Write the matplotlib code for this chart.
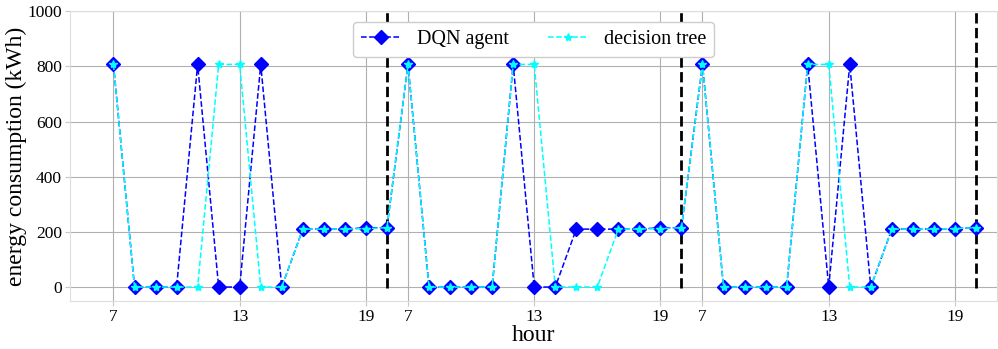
import matplotlib
matplotlib.use("Agg")
import matplotlib.pyplot as plt
import numpy as np

# hours of each day (7..20), three consecutive days
hours = list(range(7, 21))
n_days = 3

# energy consumption (kWh) per hour
dqn = [807, 0, 0, 0, 807, 0, 0, 807, 0, 210, 210, 210, 215, 215,
       807, 0, 0, 0, 0, 807, 0, 0, 210, 210, 210, 210, 215, 215,
       807, 0, 0, 0, 0, 807, 0, 807, 0, 210, 210, 210, 212, 215]
tree = [807, 0, 0, 0, 0, 807, 807, 0, 0, 210, 210, 210, 212, 215,
        807, 0, 0, 0, 0, 807, 807, 0, 0, 0, 210, 210, 212, 215,
        807, 0, 0, 0, 0, 807, 807, 0, 0, 210, 210, 210, 212, 215]

tick_hours = [7, 13, 19]

plt.rcParams['font.family'] = ['Liberation Serif', 'DejaVu Serif']

xs = np.arange(len(dqn))
fig, ax = plt.subplots(figsize=(9.98, 3.49), dpi=100)

ax.plot(xs, dqn, 'D--', color='blue', markersize=7, linewidth=1.1, label='DQN agent')
ax.plot(xs, tree, '*--', color='cyan', markersize=6, linewidth=1.1, label='decision tree')

# end of each day
for d in range(n_days):
    ax.vlines(d * len(hours) + len(hours) - 1, -5, 1000, colors='black',
              linestyles='--', linewidth=2, zorder=1)

tick_pos = [d * len(hours) + hours.index(h) for d in range(n_days) for h in tick_hours]
tick_lab = [str(h) for d in range(n_days) for h in tick_hours]
ax.set_xticks(tick_pos)
ax.set_xticklabels(tick_lab)
ax.set_yticks(range(0, 1001, 200))
ax.set_xlim(-2.05, 42)
ax.set_ylim(-50, 1000)
ax.tick_params(labelsize=12.5, length=3.5, color='#c8c8c8', pad=2.5)
ax.grid(True, color='#b0b0b0', linewidth=0.8)
ax.set_axisbelow(True)
for s in ax.spines.values():
    s.set_color('#dddddd')

ax.set_xlabel('hour', fontsize=17, labelpad=0)
ax.set_ylabel('energy consumption (kWh)', fontsize=17, labelpad=0)
ax.legend(loc='upper center', ncol=2, fontsize=14.5, framealpha=1,
          borderaxespad=0.55, columnspacing=1.9)

plt.subplots_adjust(left=0.0705, right=0.999, top=0.968, bottom=0.138)
plt.savefig('out.png', dpi=100)
